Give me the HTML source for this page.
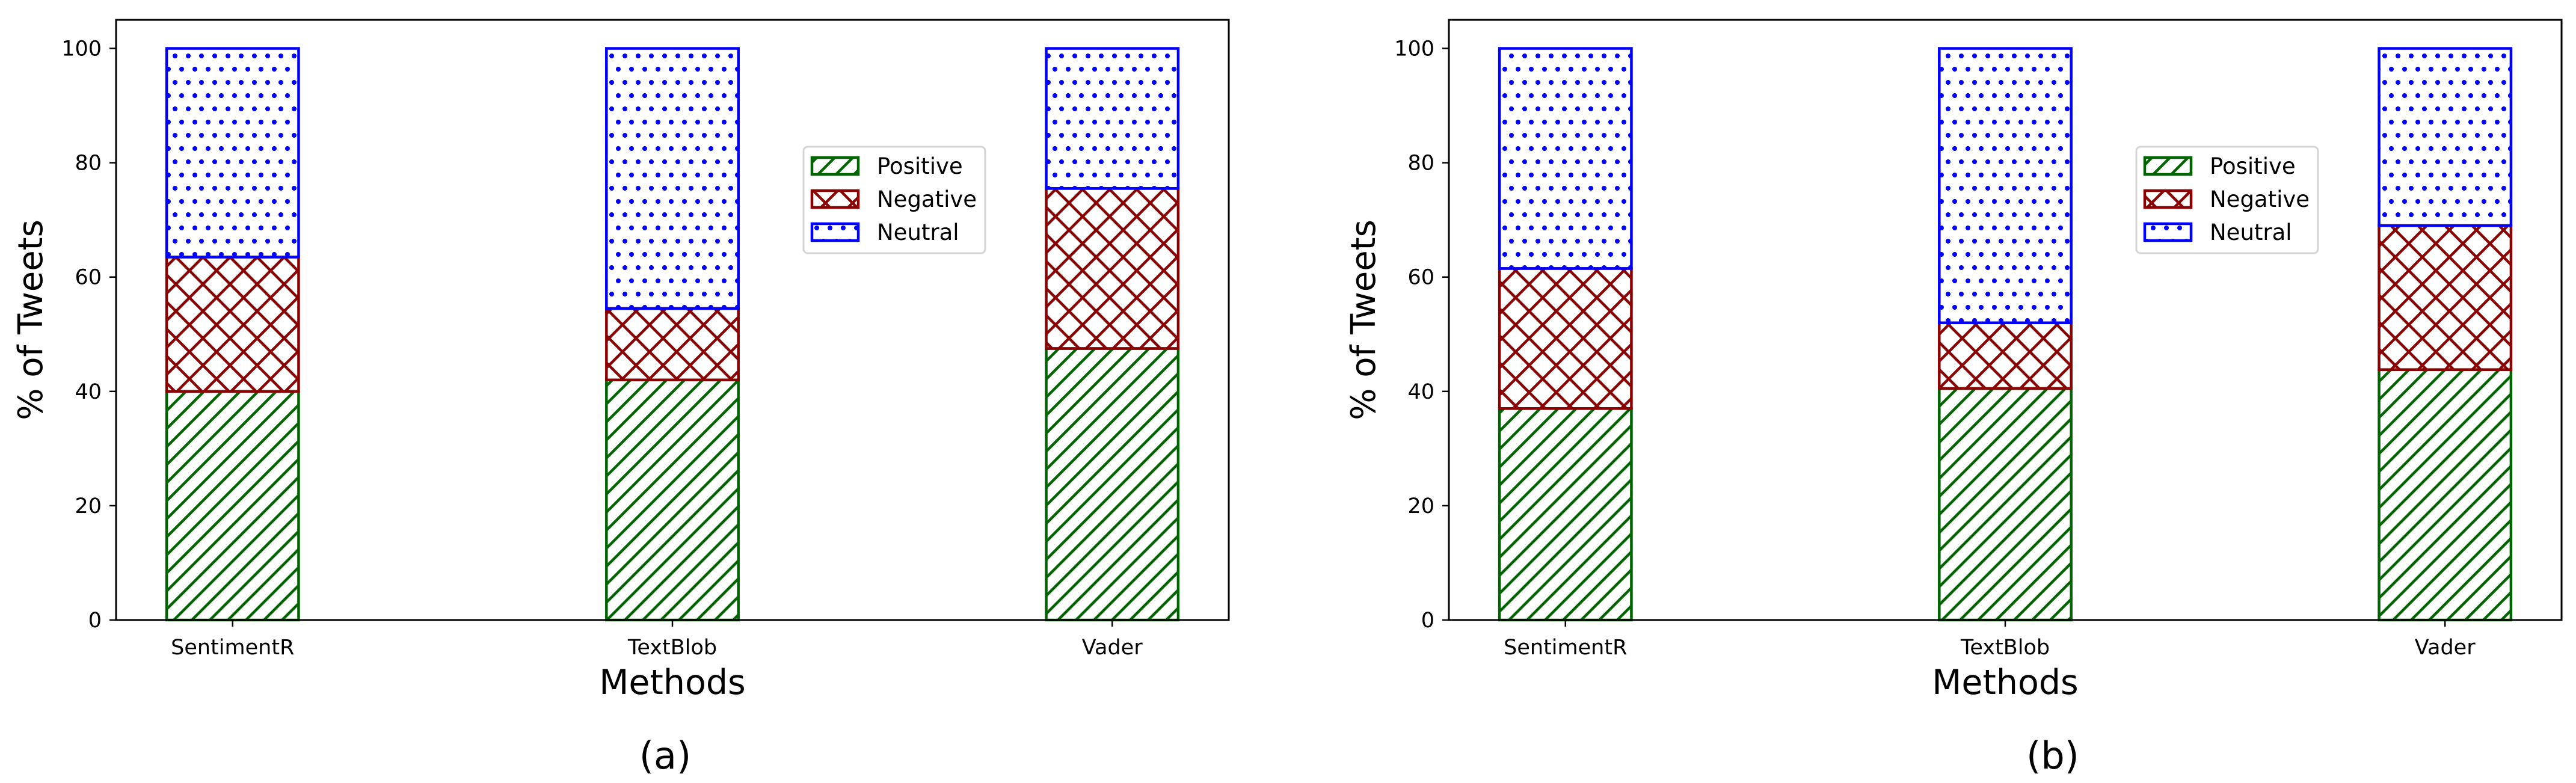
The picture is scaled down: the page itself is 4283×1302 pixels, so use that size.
<!DOCTYPE html>
<html><head><meta charset="utf-8"><style>
html,body{margin:0;padding:0;background:#fff;}
svg{display:block;font-family:"DejaVu Sans","Liberation Sans",sans-serif;}
</style></head><body>
<svg id="fig" width="4283" height="1302" viewBox="0 0 4283 1302" xmlns="http://www.w3.org/2000/svg">
<defs>
<pattern id="hPos" patternUnits="userSpaceOnUse" width="30" height="30">
<path d="M-3,33 L33,-3 M-33,33 L3,-3 M27,63 L63,27 M-6,6 L6,-6 M24,36 L36,24" stroke="#006400" stroke-width="4.5"/>
</pattern>
<pattern id="hNeg" patternUnits="userSpaceOnUse" width="45" height="45">
<path d="M-5,50 L50,-5 M-5,-5 L50,50 M-10,10 L10,-10 M35,55 L55,35 M-10,35 L10,55 M35,-10 L55,10" stroke="#8b0000" stroke-width="4.5"/>
</pattern>
<pattern id="hNeu" patternUnits="userSpaceOnUse" width="22" height="44">
<circle cx="5" cy="5" r="4" fill="#0000ff"/><circle cx="16" cy="27" r="4" fill="#0000ff"/>
</pattern>
</defs>
<g id="root"></g>
</svg>
<script>
const categories = ["SentimentR","TextBlob","Vader"];
const positiveA = [40, 42, 47.5];
const negativeA = [23.5, 12.5, 28];
const neutralA = [36.5, 45.5, 24.5];
const positiveB = [37, 40.5, 43.8];
const negativeB = [24.5, 11.5, 25.2];
const neutralB = [38.5, 48, 31];
const yTicks = [0, 20, 40, 60, 80, 100];
const seriesNames = ["Positive","Negative","Neutral"];

const NS = "http://www.w3.org/2000/svg";
const root = document.getElementById('root');
function mk(tag, attrs, parent, txt){
  const e = document.createElementNS(NS, tag);
  for (const k in attrs) e.setAttribute(k, attrs[k]);
  if (txt !== undefined) e.textContent = txt;
  parent.appendChild(e);
  return e;
}
const fills = ["url(#hPos)","url(#hNeg)","url(#hNeu)"];
const strokes = ["#006400","#8b0000","#0000ff"];

function panel(off, pos, neg, neu, label, labelX){
  const g = mk('g', {}, root);
  
  
  const L = 193 + off, R = 2043 + off, T = 33, B = 1031;
  const yScale = v => B - (v / 105) * (B - T);
  const xScale = i => L + (i + 0.265) / 2.53 * (R - L);
  const bw = 0.3 / 2.53 * (R - L);
  const series = [pos, neg, neu];
  categories.forEach((c, i) => {
    let base = 0;
    series.forEach((s, k) => {
      const v = s[i];
      const r = mk('rect', {x: xScale(i) - bw/2, y: yScale(base + v), width: bw, height: yScale(base) - yScale(base + v), fill: fills[k], stroke: strokes[k], 'stroke-width': 4.5}, g);
      
      
      base += v;
    });
    mk('line', {x1: xScale(i), x2: xScale(i), y1: B, y2: B + 11, stroke: '#000', 'stroke-width': 2.5}, g);
    const t = mk('text', {x: xScale(i), y: B + 57, 'font-size': 35, 'text-anchor': 'middle'}, g, c);
    
    
  });
  yTicks.forEach(v => {
    mk('line', {x1: L - 11, x2: L, y1: yScale(v), y2: yScale(v), stroke: '#000', 'stroke-width': 2.5}, g);
    const t = mk('text', {x: L - 24, y: yScale(v) + 12, 'font-size': 35, 'text-anchor': 'end'}, g, String(v));
    
    
  });
  const ax = mk('rect', {x: L, y: T, width: R - L, height: B - T, fill: 'none', stroke: '#000', 'stroke-width': 3}, g);
  
  
  const yt = mk('text', {x: 0, y: 0, 'font-size': 56, 'text-anchor': 'middle', transform: 'translate(' + (70 + off) + ',' + ((T + B) / 2) + ') rotate(-90)'}, g, '% of Tweets');
  
  
  const xt = mk('text', {x: (L + R) / 2, y: 1154, 'font-size': 57, 'text-anchor': 'middle'}, g, 'Methods');
  
  
  const cap = mk('text', {x: labelX, y: 1278, 'font-size': 62, 'text-anchor': 'middle'}, g, '(' + label + ')');
  
  
  const lg = mk('g', {}, g);
  
  
  mk('rect', {x: 1336 + off, y: 244, width: 302, height: 177, rx: 7, fill: '#fff', stroke: '#d4d4d4', 'stroke-width': 3}, lg);
  seriesNames.forEach((n, k) => {
    const y0 = 262 + k * 55;
    mk('rect', {x: 1350 + off, y: y0, width: 77, height: 28, fill: fills[k], stroke: strokes[k], 'stroke-width': 4.5}, lg);
    const t = mk('text', {x: 1458 + off, y: y0 + 27, 'font-size': 37}, lg, n);
    
    
  });
}
panel(0, positiveA, negativeA, neutralA, 'a', 1106);
panel(2216, positiveB, negativeB, neutralB, 'b', 3413);
</script>
</body></html>
